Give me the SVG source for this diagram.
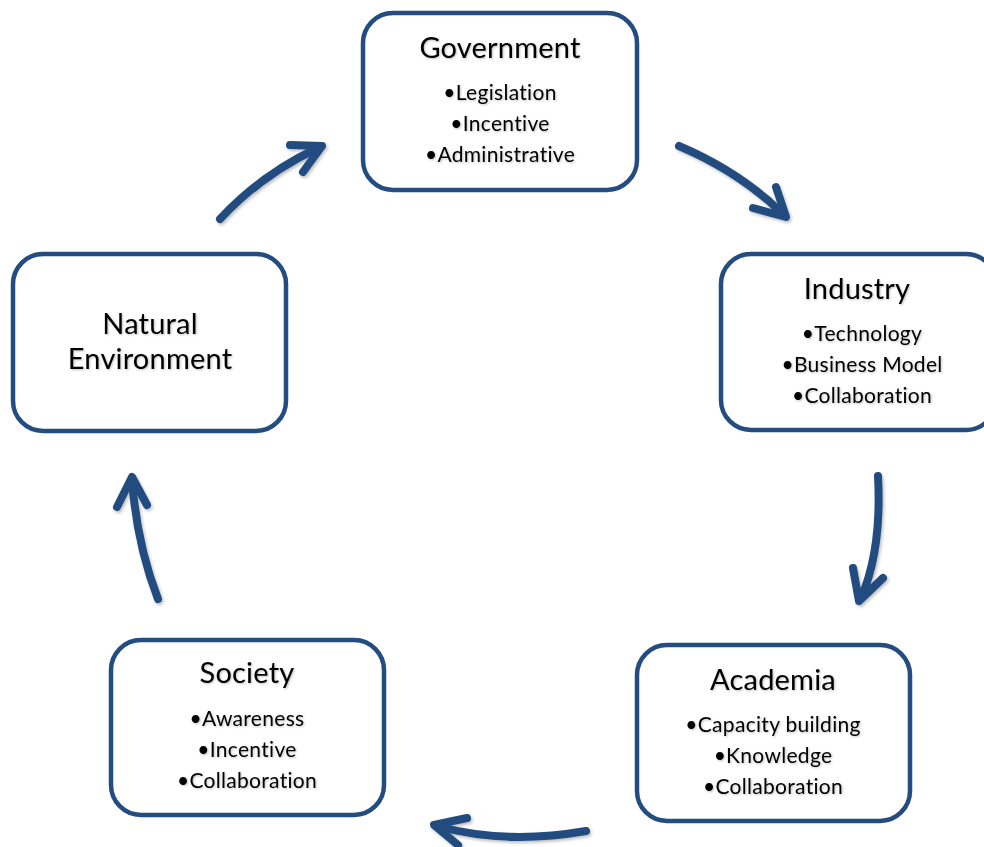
<svg xmlns="http://www.w3.org/2000/svg" width="984" height="847" viewBox="0 0 984 847">
<defs>
<filter id="sh" x="-20%" y="-20%" width="140%" height="140%">
<feDropShadow dx="1.5" dy="2" stdDeviation="1.5" flood-color="#000" flood-opacity="0.25"/>
</filter>
<filter id="tsh" x="-10%" y="-30%" width="120%" height="160%">
<feDropShadow dx="1" dy="1" stdDeviation="0.8" flood-color="#000" flood-opacity="0.25"/>
</filter>
</defs>
<style>
.box{fill:#fff;stroke:#234c80;stroke-width:4.5}
.t{font-family:Lato,"Liberation Sans",sans-serif;fill:#000;text-anchor:middle;font-variant-ligatures:none}
.h{font-size:29px;letter-spacing:0.2px}
.b{font-size:21px;letter-spacing:0.3px}
.arr{fill:none;stroke:#234c80;stroke-width:8;stroke-linecap:round;stroke-linejoin:round}
</style>
<rect width="984" height="847" fill="#fff"/>
<g id="connectors" filter="url(#sh)">
<path class="arr" d="M220,219 Q262,174 318,148"/>
<path class="arr" d="M290,145 L322,146 L303,172"/>
<path class="arr" d="M679,146 Q740,172 783,214"/>
<path class="arr" d="M753,208 L786,217 L776,187"/>
<path class="arr" d="M878,476 Q882,550 861,598"/>
<path class="arr" d="M853,568 L859,601 L883,578"/>
<path class="arr" d="M586,831 Q505,845 437,826"/>
<path class="arr" d="M467,818 L434,825 L458,845"/>
<path class="arr" d="M158,599 Q137,545 132,480"/>
<path class="arr" d="M117,507 L132,477 L147,505"/>
</g>
<g id="government">
<rect class="box" x="363" y="13" width="274" height="177" rx="30"/>
<g class="t" filter="url(#tsh)">
<text class="h" x="500" y="58">Government</text>
<text class="b" x="500" y="100">•Legislation</text>
<text class="b" x="500" y="131">•Incentive</text>
<text class="b" x="500" y="162">•Administrative</text>
</g>
</g>
<g id="industry">
<rect class="box" x="721" y="254" width="275" height="176" rx="30"/>
<g class="t" filter="url(#tsh)">
<text class="h" x="857" y="299">Industry</text>
<text class="b" x="862" y="341">•Technology</text>
<text class="b" x="862" y="372">•Business Model</text>
<text class="b" x="862" y="403">•Collaboration</text>
</g>
</g>
<g id="academia">
<rect class="box" x="637" y="645" width="273" height="176" rx="30"/>
<g class="t" filter="url(#tsh)">
<text class="h" x="773" y="690">Academia</text>
<text class="b" x="773" y="732">•Capacity building</text>
<text class="b" x="773" y="763">•Knowledge</text>
<text class="b" x="773" y="794">•Collaboration</text>
</g>
</g>
<g id="society">
<rect class="box" x="111" y="640" width="273" height="175" rx="30"/>
<g class="t" filter="url(#tsh)">
<text class="h" x="247" y="683">Society</text>
<text class="b" x="247" y="726">•Awareness</text>
<text class="b" x="247" y="757">•Incentive</text>
<text class="b" x="247" y="788">•Collaboration</text>
</g>
</g>
<g id="natural-environment">
<rect class="box" x="13" y="254" width="273" height="177" rx="30"/>
<g class="t" filter="url(#tsh)">
<text class="h" x="150" y="334">Natural</text>
<text class="h" x="150" y="369">Environment</text>
</g>
</g>
</svg>
